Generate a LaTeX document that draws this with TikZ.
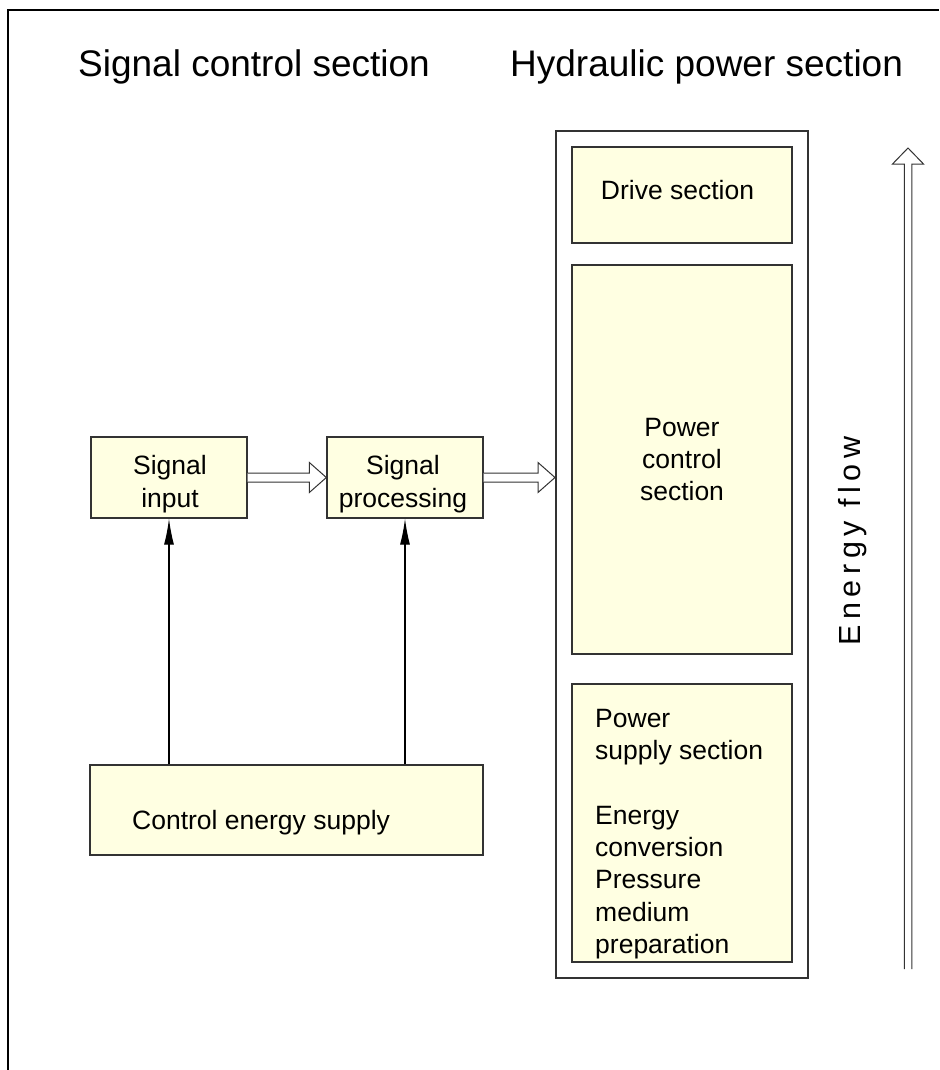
\documentclass[tikz,border=0pt]{standalone}
\usepackage{fontspec}
\setmainfont{Liberation Sans}
\usetikzlibrary{arrows.meta,calc}
\definecolor{boxfill}{RGB}{255,255,226}
\definecolor{boxline}{RGB}{51,51,51}
\begin{document}
\begin{tikzpicture}[x=1pt,y=-1pt,
  box/.style={draw=boxline,line width=1.3pt,fill=boxfill,inner sep=0pt},
  txt/.style={font=\fontsize{26.5}{32.3}\selectfont,align=center,inner sep=0pt},
  title/.style={font=\fontsize{37}{44}\selectfont,inner sep=0pt,anchor=base west},
  hollow/.style={draw=boxline,line width=1pt,fill=white,line join=miter},
  conn/.style={draw=black,line width=1.3pt,-{Latex[length=26pt,width=10pt]}}]
\useasboundingbox (0,0) rectangle (939,1070);
\draw[line width=2.5pt] (8,1070) -- (8,10) -- (939,10);

\node[title] (t1) at (78,77) {Signal control section};
\node[title] (t2) at (510,77) {Hydraulic power section};

\node[box,minimum width=156pt,minimum height=81pt] (sin) at (169,477.5) {};
\node[txt] (sinT) at (170,484) {Signal\\input};
\node[box,minimum width=156pt,minimum height=81pt] (spr) at (405,477.5) {};
\node[txt] (sprT) at (403,484) {Signal\\processing};
\node[box,minimum width=393pt,minimum height=90pt] (ces) at (286.5,810) {};
\node[txt,anchor=base west] (cesT) at (132,829) {Control energy supply};

\node[draw=boxline,line width=2pt,fill=white,inner sep=0pt,minimum width=252pt,minimum height=847pt] (hyd) at (682,554.5) {};
\node[box,minimum width=220pt,minimum height=96pt] (drv) at (682,195) {};
\node[txt] (drvT) at (677.5,190.5) {Drive section};
\node[box,minimum width=220pt,minimum height=389pt] (pcs) at (682,459.5) {};
\node[txt] (pcsT) at (682,459.5) {Power\\control\\section};
\node[box,minimum width=220pt,minimum height=278pt] (pss) at (682,823) {};
\node[txt,align=left,anchor=north west] (pssT) at (595,709) {Power\\supply section\\[32.3pt]Energy\\conversion\\Pressure\\medium\\preparation};

\node[font=\fontsize{30.5}{36}\selectfont\addfontfeatures{LetterSpace=18},rotate=90,anchor=base west,inner sep=0pt] (ef) at (860,645.5) {Energy flow};

% hollow double arrows
\draw[hollow] ($(sin.east)+(0,4.5)$) -- ($(spr.west)+(-17,4.5)$) -- ($(spr.west)+(-17,15)$) -- (spr.west) -- ($(spr.west)+(-17,-15)$) -- ($(spr.west)+(-17,-4.5)$) -- ($(sin.east)+(0,-4.5)$);
\coordinate (hin) at (hyd.west |- spr.east);
\draw[hollow] ($(spr.east)+(0,4.5)$) -- ($(hin)+(-17,4.5)$) -- ($(hin)+(-17,15)$) -- (hin) -- ($(hin)+(-17,-15)$) -- ($(hin)+(-17,-4.5)$) -- ($(spr.east)+(0,-4.5)$);

\coordinate (efb) at (908,969);
\coordinate (eft) at (908,148);
\draw[hollow] ($(efb)+(-3.75,0)$) -- ($(eft)+(-3.75,16)$) -- ($(eft)+(-15.5,16)$) -- (eft) -- ($(eft)+(15.5,16)$) -- ($(eft)+(3.75,16)$) -- ($(efb)+(3.75,0)$);

% control energy lines
\draw[conn] (ces.north -| sin.south) -- (sin.south);
\draw[conn] (ces.north -| spr.south) -- (spr.south);
\end{tikzpicture}
\end{document}
